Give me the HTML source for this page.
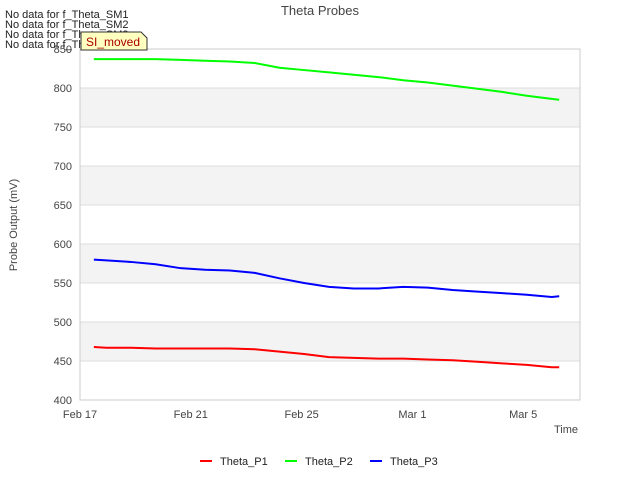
<!DOCTYPE html>
<html><head><meta charset="utf-8"><style>
body{margin:0;background:#fff;font-family:"Liberation Sans",sans-serif}
svg text{font-family:"Liberation Sans",sans-serif}
</style></head><body>
<svg id="c" width="640" height="480">
<text x="320" y="15" text-anchor="middle" font-size="13" fill="#444">Theta Probes</text>
<g id="grid"></g>
<rect x="80" y="49" width="500" height="351" fill="none" stroke="#ccc"/>
<g id="series"></g>
<g id="axes"></g>
<text x="17" y="225" transform="rotate(-90 17 225)" text-anchor="middle" font-size="11" fill="#444">Probe Output (mV)</text>
<text x="578" y="433" text-anchor="end" font-size="11" fill="#444">Time</text>
<g font-size="11" fill="#222">
<text x="5" y="18">No data for f_Theta_SM1</text>
<text x="5" y="28">No data for f_Theta_SM2</text>
<text x="5" y="38">No data for f_Theta_SM3</text>
<text x="5" y="48">No data for f_Theta_SM4</text>
</g>
<path d="M81,32 H141 L147,38 V50 H81 Z" fill="#ffffc0" stroke="#333"/>
<text x="86" y="46" font-size="12" fill="#a00">SI_moved</text>
<g id="legend" font-size="11" fill="#222"></g>
</svg>
<script>
const days=[0.5,0.95,1.84,2.73,3.63,4.52,5.41,6.31,7.2,8.09,8.99,9.88,10.77,11.67,12.56,13.45,14.35,15.24,16.13,17.03,17.3];
const p1=[468,467,467,466,466,466,466,465,462,459,455,454,453,453,452,451,449,447,445,442,442];
const p2=[837,837,837,837,836,835,834,832,826,823,820,817,814,810,807,803,799,795,790,786,785];
const p3=[580,579,577,574,569,567,566,563,556,550,545,543,543,545,544,541,539,537,535,532,533];
const yTicks=[400,450,500,550,600,650,700,750,800,850];
const xTickDays=[0,4,8,12,16];
const xTickLabels=["Feb 17","Feb 21","Feb 25","Mar 1","Mar 5"];
const NS="http://www.w3.org/2000/svg";
const X=d=>80+d*27.7, Y=v=>400-(v-400)*0.78;
function mk(t,a,p){const e=document.createElementNS(NS,t);for(const k in a)e.setAttribute(k,a[k]);p.appendChild(e);return e;}
const g=document.getElementById('grid'),ax=document.getElementById('axes');
for(let i=0;i<yTicks.length-1;i++){
 if(i%2==1){const r=mk('rect',{x:80,y:Y(yTicks[i+1]),width:500,height:Y(yTicks[i])-Y(yTicks[i+1]),fill:'#f3f3f3'},g);
 
 }
}
yTicks.forEach(v=>{
 const l=mk('line',{x1:80,x2:580,y1:Y(v),y2:Y(v),stroke:'#ddd'},g);
 
 
 const t=mk('text',{x:72,y:Y(v)+4,'text-anchor':'end','font-size':11,fill:'#444'},ax);t.textContent=v;
 
 
});
xTickDays.forEach((d,i)=>{
 const t=mk('text',{x:X(d),y:418,'text-anchor':'middle','font-size':11,fill:'#444'},ax);t.textContent=xTickLabels[i];
 
 
});
const s=document.getElementById('series');
[[p1,'#f00','series-theta-p1'],[p2,'#0f0','series-theta-p2'],[p3,'#00f','series-theta-p3']].forEach(([arr,c,n])=>{
 let d='M'+X(days[0])+','+Y(arr[0]);
 for(let i=1;i<days.length;i++)d+=' L'+X(days[i])+','+Y(arr[i]);
 const p=mk('path',{d:d,fill:'none',stroke:c,'stroke-width':2},s);
 
 
});
const lg=document.getElementById('legend');
[['Theta_P1','#f00',200],['Theta_P2','#0f0',285],['Theta_P3','#00f',370]].forEach(([n,c,x])=>{
 const l=mk('line',{x1:x,x2:x+12,y1:461,y2:461,stroke:c,'stroke-width':2},lg);
 
 
 const t=mk('text',{x:x+20,y:465},lg);t.textContent=n;
 
 
});
</script>
</body></html>
